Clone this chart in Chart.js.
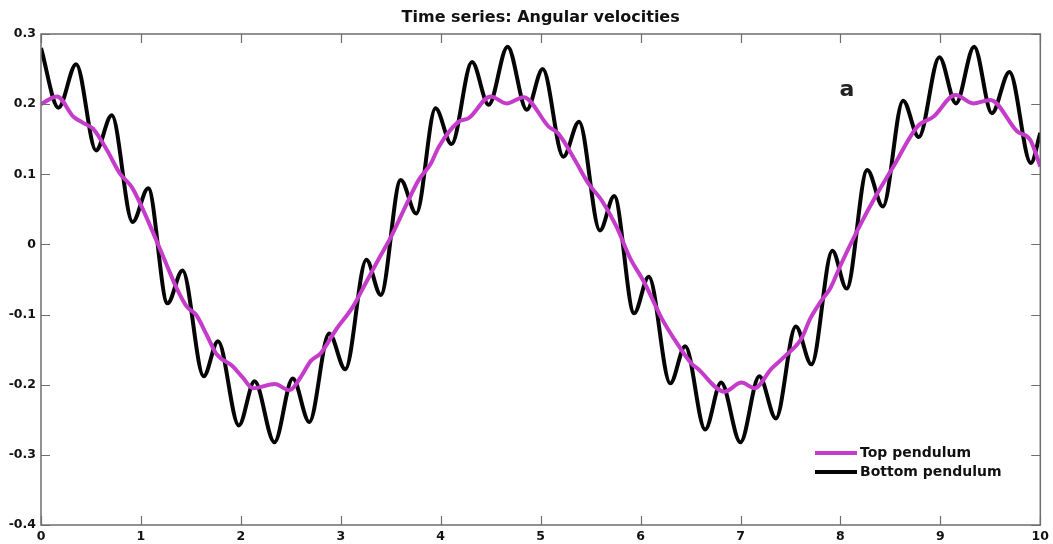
<!DOCTYPE html>
<html>
<head>
<meta charset="utf-8">
<script src="https://cdn.jsdelivr.net/npm/chart.js@4"></script>
<style>
  html, body { margin: 0; padding: 0; background: #ffffff; }
  #wrap { width: 1053px; height: 544px; position: relative; }
</style>
</head>
<body>
<div id="wrap"><canvas id="c" width="1053" height="544"></canvas></div>
<script>
// ---- data ----
const chartTitle = "Time series: Angular velocities";
const panelLabel = "a";
const seriesNames = ["Top pendulum", "Bottom pendulum"];

const xTickLabels = ["0","1","2","3","4","5","6","7","8","9","10"];
const yTickLabels = ["-0.4","-0.3","-0.2","-0.1","0","0.1","0.2","0.3"];

const topX = [0, 0.16, 0.325, 0.425, 0.52, 0.658, 0.79, 0.907, 1.023, 1.157, 1.26, 1.356, 1.455, 1.555, 1.655, 1.755, 1.92, 2.02, 2.12, 2.34, 2.485, 2.60, 2.70, 2.80, 2.95, 3.12, 3.25, 3.39, 3.50, 3.65, 3.78, 3.90, 3.98, 4.18, 4.28, 4.50, 4.66, 4.83, 5.08, 5.177, 5.344, 5.477, 5.61, 5.76, 5.89, 6.04, 6.21, 6.36, 6.51, 6.57, 6.84, 7.01, 7.14, 7.31, 7.44, 7.61, 7.70, 7.80, 7.90, 8.00, 8.17, 8.33, 8.53, 8.77, 8.93, 9.15, 9.33, 9.50, 9.77, 9.90, 10.0];
const topY = [0.200, 0.211, 0.182, 0.173, 0.165, 0.135, 0.101, 0.082, 0.049, 0.005, -0.030, -0.062, -0.088, -0.101, -0.128, -0.156, -0.174, -0.190, -0.205, -0.199, -0.208, -0.189, -0.166, -0.155, -0.122, -0.089, -0.055, -0.018, 0.010, 0.055, 0.092, 0.115, 0.139, 0.175, 0.180, 0.211, 0.201, 0.210, 0.168, 0.158, 0.120, 0.087, 0.063, 0.025, -0.018, -0.055, -0.105, -0.140, -0.170, -0.177, -0.210, -0.197, -0.205, -0.177, -0.160, -0.134, -0.105, -0.082, -0.062, -0.030, 0.020, 0.063, 0.111, 0.168, 0.182, 0.213, 0.201, 0.206, 0.161, 0.149, 0.111];

const bottomX = [0, 0.175, 0.352, 0.551, 0.708, 0.917, 1.073, 1.266, 1.416, 1.628, 1.771, 1.980, 2.137, 2.336, 2.519, 2.685, 2.884, 3.045, 3.256, 3.400, 3.600, 3.755, 3.948, 4.108, 4.313, 4.480, 4.669, 4.861, 5.021, 5.227, 5.384, 5.593, 5.736, 5.935, 6.082, 6.297, 6.447, 6.646, 6.806, 6.999, 7.188, 7.354, 7.553, 7.710, 7.919, 8.062, 8.268, 8.425, 8.627, 8.784, 8.990, 9.156, 9.338, 9.515, 9.691, 9.906, 10.0];
const bottomY = [0.280, 0.195, 0.257, 0.134, 0.184, 0.032, 0.080, -0.084, -0.037, -0.188, -0.138, -0.258, -0.195, -0.282, -0.191, -0.253, -0.127, -0.178, -0.022, -0.072, 0.092, 0.044, 0.194, 0.143, 0.260, 0.199, 0.282, 0.192, 0.250, 0.125, 0.175, 0.020, 0.069, -0.098, -0.046, -0.198, -0.145, -0.264, -0.197, -0.282, -0.188, -0.248, -0.117, -0.171, -0.009, -0.063, 0.106, 0.054, 0.205, 0.153, 0.267, 0.201, 0.282, 0.187, 0.246, 0.116, 0.159];

// ---- styles ----
const TOP_COLOR = "#c53ccb";
const BOTTOM_COLOR = "#050505";
const FRAME_COLOR = "#6e6e6e";
const FONT = "'DejaVu Sans', Verdana, sans-serif";

const toPoints = (xs, ys) => xs.map((x, i) => ({ x: x, y: ys[i] }));

const decorPlugin = {
  id: "decor",
  afterDraw(chart) {
    const ctx = chart.ctx;
    const a = chart.chartArea;
    const xs = chart.scales.x, ys = chart.scales.y;
    ctx.save();
    // frame
    ctx.strokeStyle = FRAME_COLOR;
    ctx.lineWidth = 1.5;
    ctx.strokeRect(a.left, a.top, a.right - a.left, a.bottom - a.top);
    // inward ticks
    const tl = 9;
    ctx.beginPath();
    xs.ticks.forEach(t => {
      const px = Math.round(xs.getPixelForValue(t.value)) + 0.5;
      ctx.moveTo(px, a.bottom); ctx.lineTo(px, a.bottom - tl);
      ctx.moveTo(px, a.top); ctx.lineTo(px, a.top + tl);
    });
    ys.ticks.forEach(t => {
      const py = Math.round(ys.getPixelForValue(t.value)) + 0.5;
      ctx.moveTo(a.left, py); ctx.lineTo(a.left + tl, py);
      ctx.moveTo(a.right, py); ctx.lineTo(a.right - tl, py);
    });
    ctx.lineWidth = 1.2;
    ctx.stroke();
    // title centred over the axes
    ctx.fillStyle = "#111";
    ctx.font = "bold 16px " + FONT;
    ctx.textAlign = "center";
    ctx.textBaseline = "middle";
    ctx.fillText(chartTitle, (a.left + a.right) / 2, 18);
    // panel label
    ctx.font = "bold 22px " + FONT;
    ctx.fillStyle = "#222";
    ctx.fillText(panelLabel, 847, 90);
    // legend
    const legendItems = [
      { name: seriesNames[0], color: TOP_COLOR, y: 453 },
      { name: seriesNames[1], color: BOTTOM_COLOR, y: 472 }
    ];
    ctx.font = "bold 14px " + FONT;
    ctx.textAlign = "left";
    legendItems.forEach(it => {
      ctx.strokeStyle = it.color;
      ctx.lineWidth = 4;
      ctx.beginPath();
      ctx.moveTo(815, it.y); ctx.lineTo(857, it.y);
      ctx.stroke();
      ctx.fillStyle = "#111";
      ctx.fillText(it.name, 860, it.y);
    });
    ctx.restore();
  }
};

new Chart(document.getElementById("c"), {
  type: "line",
  data: {
    datasets: [
      {
        label: seriesNames[0],
        data: toPoints(topX, topY),
        borderColor: TOP_COLOR,
        borderWidth: 4,
        pointRadius: 0,
        cubicInterpolationMode: "monotone",
        fill: false
      },
      {
        label: seriesNames[1],
        data: toPoints(bottomX, bottomY),
        borderColor: BOTTOM_COLOR,
        borderWidth: 4,
        pointRadius: 0,
        cubicInterpolationMode: "monotone",
        fill: false
      }
    ]
  },
  options: {
    responsive: false,
    animation: false,
    devicePixelRatio: 1,
    layout: { padding: { top: 34, right: 9.5, left: 0, bottom: 0 } },
    plugins: {
      legend: { display: false },
      title: { display: false },
      tooltip: { enabled: false }
    },
    scales: {
      x: {
        type: "linear",
        min: 0, max: 10,
        grid: { display: false, drawTicks: false },
        border: { display: false },
        ticks: {
          stepSize: 1,
          padding: 4,
          color: "#111",
          font: { family: FONT, size: 12.5, weight: "bold" },
          maxRotation: 0,
          callback: (v) => xTickLabels[Math.round(v)]
        },
        afterFit: (s) => { s.height = 19; }
      },
      y: {
        min: -0.4, max: 0.3,
        grid: { display: false, drawTicks: false },
        border: { display: false },
        ticks: {
          stepSize: 0.1,
          padding: 5,
          color: "#111",
          font: { family: FONT, size: 12.5, weight: "bold" },
          callback: (v) => yTickLabels[Math.round((v + 0.4) * 10)]
        },
        afterFit: (s) => { s.width = 41; }
      }
    }
  },
  plugins: [decorPlugin]
});
</script>
</body>
</html>
